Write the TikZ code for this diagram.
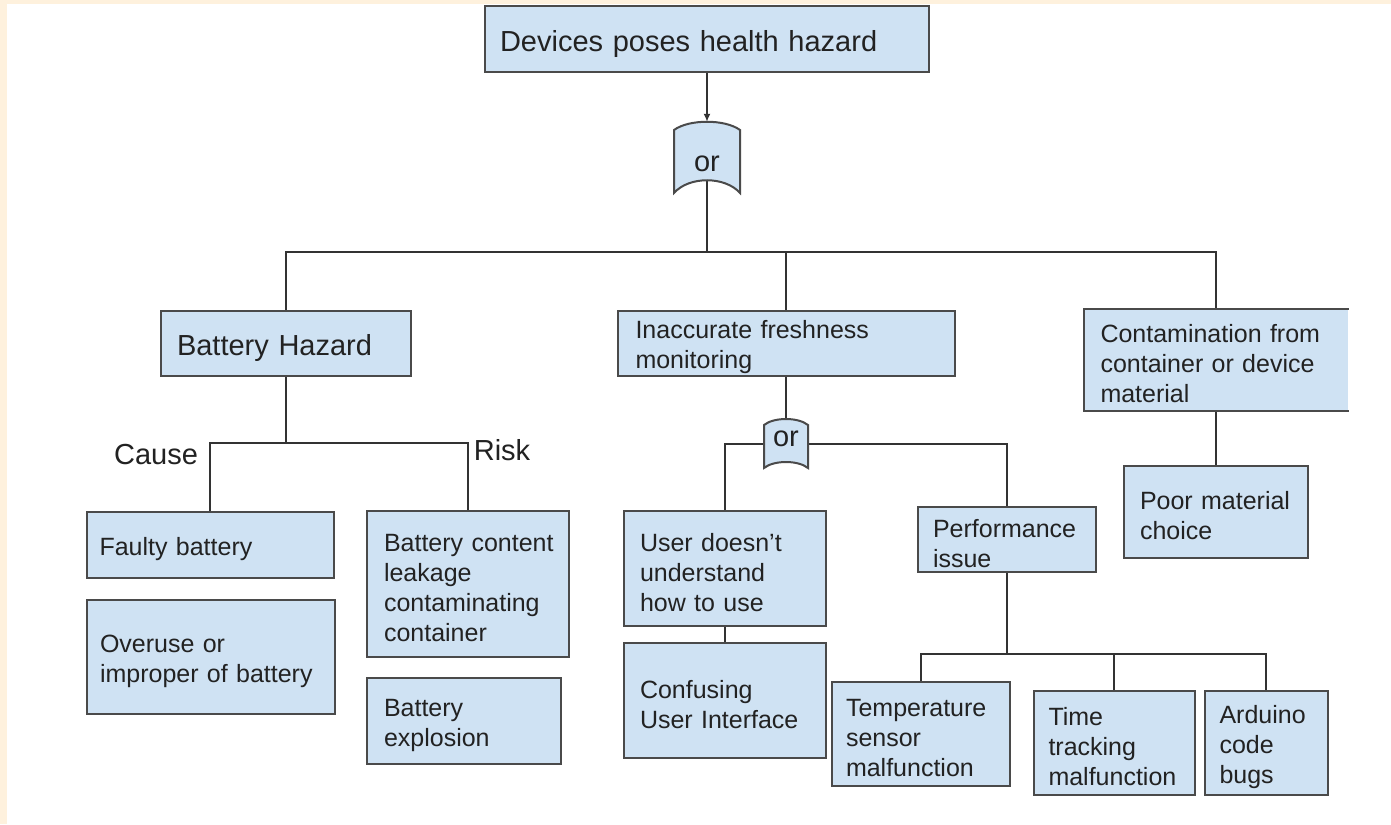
\documentclass[tikz,border=0pt]{standalone}
\usepackage{fontspec}
\setmainfont{Liberation Sans}
\usetikzlibrary{arrows.meta}
\definecolor{boxfill}{HTML}{CFE2F3}
\definecolor{boxline}{HTML}{4A4A4A}
\definecolor{wire}{HTML}{333333}
\definecolor{ink}{HTML}{222222}
\definecolor{margin}{HTML}{FEF1DD}
\newcommand\txtbody{\fontsize{25pt}{30pt}\selectfont\hyphenpenalty=10000 \exhyphenpenalty=10000 }
\newcommand\txthead{\fontsize{29pt}{35pt}\selectfont\hyphenpenalty=10000 }
\pgfdeclarelayer{backdrop}
\pgfdeclarelayer{wires}
\pgfsetlayers{backdrop,wires,main}
\tikzset{
  box/.style={draw=boxline, fill=boxfill, line width=2pt, inner xsep=0pt, inner ysep=0pt,
              align=left, text=ink, font=\txtbody, execute at begin node={\rule{0pt}{26pt}}},
  headbox/.style={box, font=\txthead, execute at begin node={\rule{0pt}{31pt}}},
  wireline/.style={draw=wire, line width=2pt},
  gateshape/.style={draw=boxline, fill=boxfill, line width=2pt},
  gatetext/.style={inner sep=0pt, text=ink, font=\txthead},
  tag/.style={inner sep=0pt, text=ink, font=\txthead},
}
\begin{document}
\begin{tikzpicture}[x=1pt,y=-1pt]
% page and margin strips
\begin{pgfonlayer}{backdrop}
\fill[white] (0,0) rectangle (1391,824);
\fill[margin] (0,0) rectangle (1391,4);
\fill[margin] (0,0) rectangle (7,824);
\end{pgfonlayer}
\path[use as bounding box] (0,0) rectangle (1391,824);

% top event
\node[headbox, minimum width=444pt, minimum height=66pt, text width=414pt] (top) at (707,39) {Devices poses health hazard};

% main OR gate
\draw[gateshape] (674,130) .. controls (689,119) and (725,119) .. (740,130) -- (740,193)
  .. controls (725,176) and (689,176) .. (674,193) -- cycle;
\node[gatetext, minimum width=66pt, minimum height=71pt, text height=28pt, text depth=0pt] (g1) at (707,157.5) {or};

% second level
\node[headbox, minimum width=250pt, minimum height=65pt, text width=218pt] (bh) at (286,343.5) {Battery Hazard};
\node[box, minimum width=337pt, minimum height=65pt, text width=301pt] (inacc) at (786,343.5) {Inaccurate~freshness\\monitoring};
\node[box, draw=none, minimum width=263pt, minimum height=100pt, text width=231pt] (contam) at (1216,360) {Contamination~from\\container~or~device\\material};
\draw[draw=boxline, line width=2pt] (contam.north east) -- (contam.north west) -- (contam.south west) -- (contam.south east);

% battery branch
\node[tag] (cause) at (156,455) {Cause};
\node[tag] (risk) at (502,450) {Risk};
\node[box, minimum width=247pt, minimum height=66pt, text width=221pt] (faulty) at (210,545) {Faulty~battery};
\node[box, minimum width=248pt, minimum height=114pt, text width=222pt] (overuse) at (211,657) {Overuse~or\\improper~of~battery};
\node[box, minimum width=202pt, minimum height=146pt, text width=168pt] (leak) at (468,584) {Battery~content\\leakage\\contaminating\\container};
\node[box, minimum width=194pt, minimum height=86pt, text width=160pt] (explode) at (464,721) {Battery\\explosion};

% monitoring branch with its OR gate
\draw[gateshape] (764,425) .. controls (774,417) and (798,417) .. (808,425) -- (808,468)
  .. controls (798,460) and (774,460) .. (764,468) -- cycle;
\node[gatetext, minimum width=44pt, minimum height=49pt, text height=17pt, text depth=12pt] (g2) at (786,443.5) {or};
\node[box, minimum width=202pt, minimum height=115pt, text width=170pt] (user) at (725,568.5) {User~doesn’t\\understand\\how~to~use};
\node[box, minimum width=202pt, minimum height=115pt, text width=170pt] (confuse) at (725,700.5) {Confusing\\User~Interface};
\node[box, minimum width=178pt, minimum height=65pt, text width=148pt] (perf) at (1007,539.5) {Performance\\issue};
\node[box, minimum width=178pt, minimum height=104pt, text width=150pt] (temp) at (921,734) {Temperature\\sensor\\malfunction};
\node[box, minimum width=161pt, minimum height=104pt, text width=131pt] (timer) at (1114,743) {Time\\tracking\\malfunction};
\node[box, minimum width=123pt, minimum height=104pt, text width=93pt] (ard) at (1266,743) {Arduino\\code\\bugs};

% material branch
\node[box, minimum width=184pt, minimum height=92pt, text width=152pt] (poor) at (1216,512) {Poor~material\\choice};

% junction points
\coordinate (bus) at (707,252);
\coordinate (bhj) at (286,443);
\coordinate (pj) at (1007,654);

\begin{pgfonlayer}{wires}
\draw[wireline, -{Latex[length=8pt,width=7pt]}] (top.south) -- (g1.north);
\draw[wireline] (g1.center) -- (bus);
\draw[wireline] (bh.north) |- (bus) -| (contam.north);
\draw[wireline] (inacc.north) -- (inacc.north |- bus);
\draw[wireline] (bh.south) -- (bhj);
\draw[wireline] (faulty.north) |- (bhj) -| (leak.north);
\draw[wireline] (inacc.south) -- (g2.north);
\draw[wireline] (g2.center) -| (user.north);
\draw[wireline] (g2.center) -| (perf.north);
\draw[wireline] (user.south) -- (confuse.north);
\draw[wireline] (perf.south) -- (pj);
\draw[wireline] (temp.north) |- (pj) -| (ard.north);
\draw[wireline] (timer.north) -- (timer.north |- pj);
\draw[wireline] (contam.south) -- (poor.north);
\end{pgfonlayer}
\end{tikzpicture}
\end{document}
